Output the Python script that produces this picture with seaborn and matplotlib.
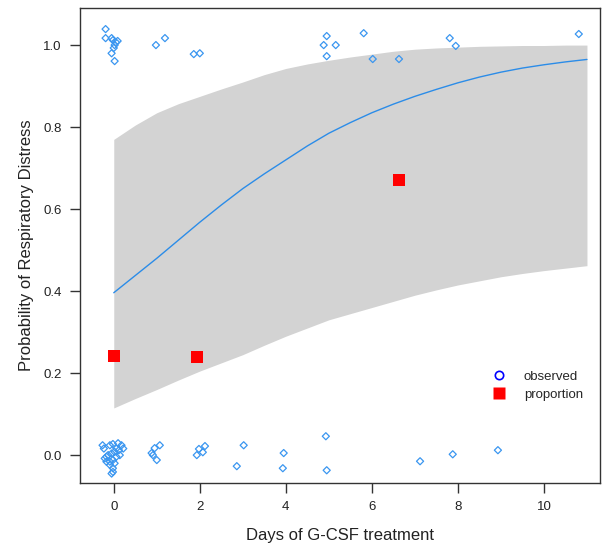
import numpy as np
import pandas as pd
import matplotlib
matplotlib.use("Agg")
import matplotlib.pyplot as plt
import seaborn as sns
from matplotlib.lines import Line2D

obs1_x = [-0.19, -0.19, -0.05, -0.02, 0.05, 0.09, 0.02, 0.00, -0.05, 0.02,
          0.98, 1.19, 1.86, 2.00,
          4.95, 4.88, 5.16, 4.95, 5.81, 6.02, 6.63, 7.81, 7.95, 10.81]
obs1_y = [1.039, 1.017, 1.017, 1.012, 1.007, 1.010, 1.000, 0.993, 0.980, 0.961,
          1.000, 1.017, 0.978, 0.980,
          1.022, 1.000, 1.000, 0.973, 1.029, 0.966, 0.966, 1.017, 0.998, 1.027]
obs0_x = [-0.26, -0.23, -0.09, -0.02, 0.10, 0.18, 0.22, 0.12, 0.02, -0.05,
          -0.13, -0.21, -0.17, -0.09, -0.02, 0.06, 0.14, 0.02, -0.09, -0.02,
          -0.02, -0.05, 0.06, -0.17,
          1.07, 0.95, 0.88, 0.91, 1.00,
          2.12, 1.98, 2.07, 1.93,
          3.02, 2.86, 3.95, 3.93, 4.93, 4.95, 7.12, 7.88, 8.93]
obs0_y = [0.024, 0.016, 0.024, 0.027, 0.029, 0.024, 0.016, 0.012, 0.008, 0.004,
          0.000, -0.008, -0.016, -0.016, -0.012, -0.004, 0.000, -0.020, -0.024, -0.032,
          -0.041, -0.045, 0.016, -0.004,
          0.024, 0.017, 0.005, 0.000, -0.012,
          0.022, 0.015, 0.007, 0.000,
          0.024, -0.027, 0.005, -0.032, 0.046, -0.037, -0.015, 0.002, 0.012]

# Proportions
prop_x = [0.0, 1.93, 6.63]
prop_y = [0.241, 0.239, 0.671]

# Fitted curve and confidence band
fit_x = [0, 0.5, 1, 1.5, 2, 2.5, 3, 3.5, 4, 4.5, 5, 5.5, 6, 6.5, 7, 7.5, 8, 8.5, 9, 9.5, 10, 10.5, 11]
fit_y = [0.396, 0.438, 0.480, 0.524, 0.568, 0.610, 0.650, 0.686, 0.720, 0.754, 0.785, 0.811,
         0.835, 0.856, 0.875, 0.892, 0.908, 0.922, 0.934, 0.944, 0.952, 0.959, 0.965]
band_lo = [0.115, 0.138, 0.160, 0.183, 0.205, 0.225, 0.245, 0.268, 0.290, 0.310, 0.330, 0.345,
           0.360, 0.375, 0.390, 0.403, 0.415, 0.425, 0.435, 0.443, 0.450, 0.456, 0.462]
band_hi = [0.770, 0.805, 0.835, 0.857, 0.875, 0.893, 0.910, 0.928, 0.943, 0.954, 0.963, 0.971,
           0.978, 0.985, 0.990, 0.993, 0.995, 0.997, 0.998, 0.999, 0.999, 1.000, 1.000]

sns.set_style("ticks")
plt.rcParams['font.family'] = ['Liberation Sans', 'DejaVu Sans']

fig = plt.figure(figsize=(6.09, 5.46), dpi=100)
ax = fig.add_axes([0.131, 0.1154, 0.854, 0.8696])

ax.fill_between(fit_x, band_lo, band_hi, color="#D3D3D3", linewidth=0, zorder=1)

fit_df = pd.DataFrame({"x": fit_x, "y": fit_y})
sns.lineplot(data=fit_df, x="x", y="y", color="#2B8CE8", linewidth=1.0, ax=ax, zorder=2)

obs_df = pd.DataFrame({"x": obs1_x + obs0_x, "y": obs1_y + obs0_y})
sns.scatterplot(data=obs_df, x="x", y="y", marker="D", s=13, facecolors="none",
                edgecolor="#3A96F0", linewidth=0.9, ax=ax, zorder=3)

prop_df = pd.DataFrame({"x": prop_x, "y": prop_y})
sns.scatterplot(data=prop_df, x="x", y="y", marker="s", s=70, color="#FF0000",
                edgecolor="none", linewidth=0, ax=ax, zorder=4)

ax.set_xlim(-0.79, 11.3)
ax.set_ylim(-0.068, 1.09)
ax.set_xticks([0, 2, 4, 6, 8, 10])
ax.set_xticklabels(["0", "2", "4", "6", "8", "10"])
ax.set_yticks([0.0, 0.2, 0.4, 0.6, 0.8, 1.0])
ax.set_yticklabels(["0.0", "0.2", "0.4", "0.6", "0.8", "1.0"])
ax.tick_params(axis="both", direction="out", length=7, width=1, colors="#333333",
               labelsize=9.5, pad=6, labelcolor="#222222")
for s in ax.spines.values():
    s.set_color("#333333")
    s.set_linewidth(1.0)
ax.set_xlabel("Days of G-CSF treatment", fontsize=12, color="#222222", labelpad=11)
ax.set_ylabel("Probability of Respiratory Distress", fontsize=12, color="#222222", labelpad=7)

handles = [
    Line2D([], [], linestyle="none", marker="o", markersize=6, markerfacecolor="none",
           markeredgecolor="#0000FF", markeredgewidth=1.2),
    Line2D([], [], linestyle="none", marker="s", markersize=8, markerfacecolor="#FF0000",
           markeredgecolor="none"),
]
ax.legend(handles, ["observed", "proportion"], frameon=False, fontsize=9.5,
          loc="center left", bbox_to_anchor=(0.77, 0.205), handletextpad=1.4,
          labelspacing=0.45, handlelength=1.0)

fig.savefig("out.png", dpi=100)
